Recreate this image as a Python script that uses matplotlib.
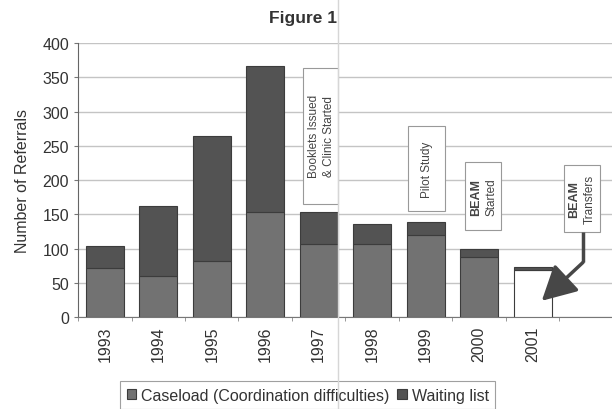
import matplotlib
matplotlib.use("Agg")
import matplotlib.pyplot as plt
from matplotlib.patches import Rectangle, FancyArrowPatch
from matplotlib.lines import Line2D
import numpy as np

plt.rcParams["font.family"] = ["Liberation Sans", "DejaVu Sans"]

years = ["1993", "1994", "1995", "1996", "1997", "1998", "1999", "2000", "2001"]
caseload = [72, 60, 82, 154, 107, 107, 120, 88, 69]
waiting = [32, 102, 183, 212, 46, 29, 19, 11, 4]

# event notes: (x0, x1, y0, y1) in data units, then the text columns
notes = [
    ((3.71, 4.36, 165, 364), [("Booklets Issued", "normal"), ("& Clinic Started", "normal")]),
    ((5.67, 6.36, 155, 279), [("Pilot Study", "normal")]),
    ((6.73, 7.41, 127, 226), [("BEAM", "bold"), ("Started", "normal")]),
    ((8.58, 9.26, 125, 222), [("BEAM", "bold"), ("Transfers", "normal")]),
]
arrow_path = [(8.94, 125), (8.94, 80), (8.17, 24)]

case_col = "#727272"
wait_col = "#535353"
edge_col = "#3c3c3c"

fig = plt.figure(figsize=(6.12, 4.10), dpi=100)
ax = fig.add_axes([0.1275, 0.2237, 0.874, 0.669])

x = np.arange(len(years))
w = 0.71
face = [case_col] * (len(years) - 1) + ["white"]
ax.bar(x, caseload, w, color=face, edgecolor=edge_col, linewidth=0.8,
       label="Caseload (Coordination difficulties)", zorder=3)
ax.bar(x, waiting, w, bottom=caseload, color=wait_col, edgecolor=edge_col,
       linewidth=0.8, label="Waiting list", zorder=3)

ax.set_xlim(-0.5, 9.5)
ax.set_ylim(0, 400)
ax.set_yticks(range(0, 401, 50))
ax.yaxis.grid(True, color="#c4c4c4", linewidth=1)
ax.set_axisbelow(True)
ax.set_xticks(x)
ax.set_xticklabels(years, rotation=90, fontsize=11.5, color="#333333")
ax.set_xticks(np.arange(-0.5, 10, 1), minor=True)
ax.tick_params(axis="x", which="major", length=0, pad=6)
ax.tick_params(axis="x", which="minor", length=3, color="#888888")
ax.tick_params(axis="y", labelsize=11.5, labelcolor="#333333", length=3, color="#777777")
for s in ["top", "right"]:
    ax.spines[s].set_visible(False)
ax.spines["left"].set_color("#666666")
ax.spines["bottom"].set_color("#777777")
ax.set_ylabel("Number of Referrals", fontsize=11.5, color="#333333", labelpad=9)

# note boxes with vertical text
for (x0, x1, y0, y1), cols in notes:
    ax.add_patch(Rectangle((x0, y0), x1 - x0, y1 - y0, facecolor="white",
                           edgecolor="#999999", linewidth=0.8, zorder=4))
    span = x1 - x0
    fracs = [0.5] if len(cols) == 1 else [0.3, 0.73]
    for f, (txt, weight) in zip(fracs, cols):
        ax.text(x0 + span * f, (y0 + y1) / 2, txt, rotation=90, ha="center",
                va="center", fontsize=8.5 if weight == "normal" else 9,
                fontweight=weight, color="#444444", zorder=5)

# arrow from the BEAM Transfers note down to 2001
(ax0, ay0), (ax1, ay1), (ax2, ay2) = arrow_path
ax.plot([ax0, ax1], [ay0, ay1], color="#474747", linewidth=2.5,
        solid_capstyle="butt", zorder=5)
ax.add_patch(FancyArrowPatch((ax1, ay1), (ax2, ay2),
                             arrowstyle="-|>,head_length=1.5,head_width=0.8",
                             mutation_scale=14, color="#474747", linewidth=2.5,
                             shrinkA=0, shrinkB=0, zorder=5))

fig.text(0.495, 0.955, "Figure 1", ha="center", va="center", fontsize=12.5,
         fontweight="bold", color="#333333")

leg = fig.legend(loc="upper center", bbox_to_anchor=(0.503, 0.087), ncol=2,
                 fontsize=11.5, frameon=True, fancybox=False, handlelength=0.6,
                 handleheight=0.6, handletextpad=0.3, columnspacing=0.5,
                 borderpad=0.4, edgecolor="#888888", labelcolor="#333333")
leg.get_frame().set_linewidth(0.8)

# faint fold line across the sheet
fig.add_artist(Line2D([338 / 612] * 2, [0, 1], transform=fig.transFigure,
                      color="#d6d6d6", linewidth=1, zorder=10))

fig.savefig("out.png", dpi=100, facecolor="white")
